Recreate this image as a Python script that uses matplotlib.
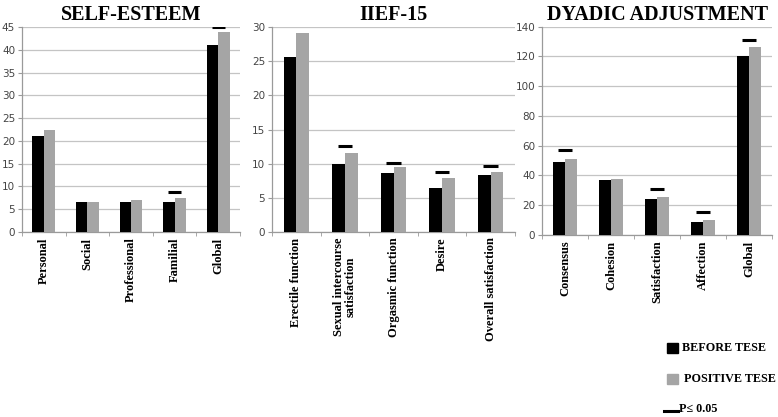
import matplotlib
matplotlib.use('Agg')
import numpy as np
import matplotlib.pyplot as plt
from matplotlib.patches import Rectangle
from matplotlib.lines import Line2D

# values
se_cats = ['Personal', 'Social', 'Professional', 'Familial', 'Global']
se_before = [21.0, 6.6, 6.6, 6.6, 41.1]
se_after = [22.4, 6.6, 7.0, 7.4, 43.9]
se_sig = [None, None, None, 8.7, 45.0]

iief_cats = ['Erectile function', 'Sexual intercourse\nsatisfaction', 'Orgasmic function',
             'Desire', 'Overall satisfaction']
iief_before = [25.6, 10.0, 8.7, 6.4, 8.4]
iief_after = [29.1, 11.6, 9.5, 7.9, 8.8]
iief_sig = [None, 12.6, 10.1, 8.85, 9.6]

das_cats = ['Consensus', 'Cohesion', 'Satisfaction', 'Affection', 'Global']
das_before = [49.0, 37.2, 24.0, 8.9, 120.3]
das_after = [51.3, 37.6, 25.8, 10.0, 126.2]
das_sig = [57.3, None, 31.1, 15.3, 130.9]

panels = [
    ('SELF-ESTEEM', se_cats, se_before, se_after, se_sig, 45, 5, [0.0283, 0.4436, 0.2802, 0.4916]),
    ('IIEF-15', iief_cats, iief_before, iief_after, iief_sig, 30, 5, [0.3496, 0.4436, 0.3124, 0.4916]),
    ('DYADIC ADJUSTMENT', das_cats, das_before, das_after, das_sig, 140, 20, [0.6967, 0.4365, 0.2956, 0.4995]),
]

serif = ['Liberation Serif', 'DejaVu Serif']
black = '#000000'
grey = '#a5a5a5'

fig = plt.figure(figsize=(7.78, 4.17), dpi=100)

for title, cats, before, after, sig, ymax, ystep, pos in panels:
    ax = fig.add_axes(pos)
    x = np.arange(len(cats))
    w = 0.26
    ax.bar(x - w / 2, before, w, color=black, zorder=3)
    ax.bar(x + w / 2, after, w, color=grey, zorder=3)
    for xi, s in zip(x, sig):
        if s is not None:
            ax.hlines(s, xi - 0.15, xi + 0.15, color='black', lw=2.2, zorder=4)
    ax.set_xlim(-0.5, len(cats) - 0.5)
    ax.set_ylim(0, ymax)
    ax.set_yticks(np.arange(0, ymax + 1, ystep))
    ax.grid(axis='y', color='#c4c4c4', lw=0.9, zorder=0)
    ax.set_xticks(x)
    ax.set_xticklabels(cats, rotation=90, fontfamily=serif, fontweight='bold',
                       fontsize=9, linespacing=1.0)
    ax.set_xticks(np.arange(-0.5, len(cats)), minor=True)
    ax.tick_params(axis='x', which='major', length=0, pad=4)
    ax.tick_params(axis='x', which='minor', length=3, color='#9a9a9a')
    ax.tick_params(axis='y', length=3, color='#9a9a9a', labelsize=7.5,
                   labelcolor='#444444', pad=2)
    for side in ['top', 'right']:
        ax.spines[side].set_visible(False)
    for side in ['left', 'bottom']:
        ax.spines[side].set_color('#9a9a9a')
        ax.spines[side].set_linewidth(0.9)
    ax.set_title(title, fontfamily=serif, fontweight='bold', fontsize=14.5, pad=5)

# legend drawn in figure pixels
W, H = 778.0, 417.0
fig.add_artist(Rectangle((667 / W, 1 - 353 / H), 11 / W, 10 / H, color=black,
                         transform=fig.transFigure))
fig.add_artist(Rectangle((667 / W, 1 - 384 / H), 11 / W, 10 / H, color=grey,
                         transform=fig.transFigure))
fig.add_artist(Line2D([664 / W, 678 / W], [1 - 411 / H, 1 - 411 / H], color='black',
                      lw=2.2, transform=fig.transFigure))
fig.text(682 / W, 1 - 348 / H, 'BEFORE TESE', fontfamily=serif, fontweight='bold',
         fontsize=8.7, va='center')
fig.text(684 / W, 1 - 379 / H, 'POSITIVE TESE', fontfamily=serif, fontweight='bold',
         fontsize=8.7, va='center')
fig.text(679 / W, 1 - 409 / H, 'P\u2264 0.05', fontfamily=serif, fontweight='bold',
         fontsize=8.7, va='center')

plt.savefig('out.png', dpi=100)
